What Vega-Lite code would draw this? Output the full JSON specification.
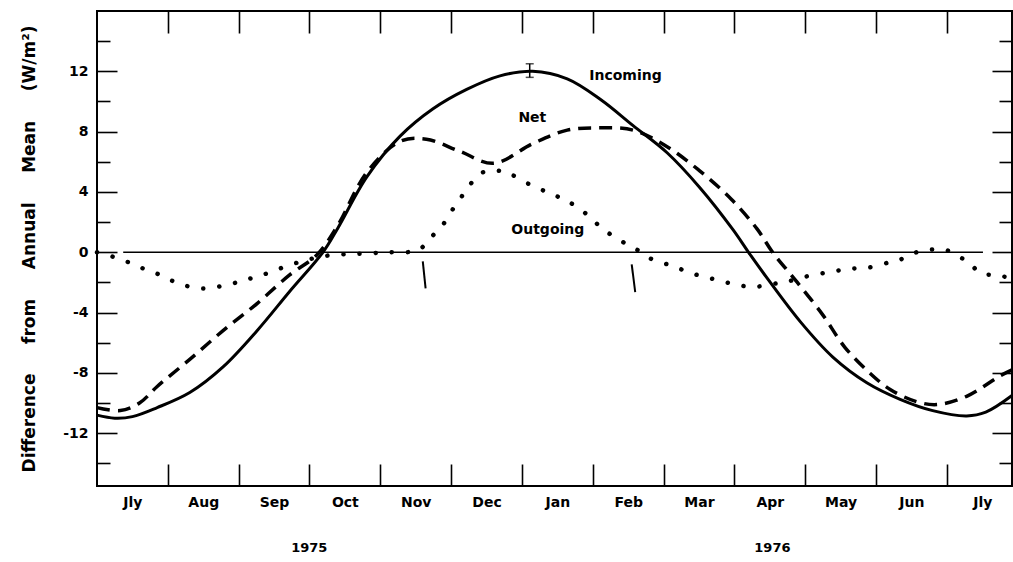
{
  "$schema": "https://vega.github.io/schema/vega-lite/v6.json",
  "width": 915,
  "height": 475,
  "autosize": {"type": "none"},
  "padding": {"left": 97, "top": 11, "right": 1, "bottom": 76},
  "background": "white",
  "config": {
    "view": {"stroke": "black", "strokeWidth": 2},
    "font": "DejaVu Sans",
    "axis": {"domain": false, "grid": false, "labelFont": "DejaVu Sans", "labelFontWeight": "bold", "labelFontSize": 14, "labelColor": "black", "tickColor": "black", "tickWidth": 1.6, "labelOverlap": false, "labelBound": false, "labelFlush": false}
  },
  "datasets": {
    "incoming": [
      {"m": 0, "v": -10.8}, {"m": 0.25, "v": -11.0}, {"m": 0.5, "v": -10.9}, {"m": 0.85, "v": -10.3},
      {"m": 1.31, "v": -9.3}, {"m": 1.78, "v": -7.6}, {"m": 2.26, "v": -5.2}, {"m": 2.72, "v": -2.6},
      {"m": 3.19, "v": 0}, {"m": 3.4, "v": 1.6}, {"m": 3.81, "v": 5.0}, {"m": 4.28, "v": 7.7},
      {"m": 4.74, "v": 9.5}, {"m": 5.22, "v": 10.8}, {"m": 5.69, "v": 11.7}, {"m": 6.15, "v": 12.0},
      {"m": 6.64, "v": 11.5}, {"m": 7.12, "v": 10.1}, {"m": 7.57, "v": 8.4}, {"m": 8.05, "v": 6.6},
      {"m": 8.51, "v": 4.3}, {"m": 8.98, "v": 1.5}, {"m": 9.2, "v": 0},
      {"m": 9.46, "v": -1.7}, {"m": 9.93, "v": -4.6}, {"m": 10.39, "v": -6.95}, {"m": 10.87, "v": -8.65},
      {"m": 11.34, "v": -9.75}, {"m": 11.8, "v": -10.5}, {"m": 12.28, "v": -10.85}, {"m": 12.55, "v": -10.6},
      {"m": 12.92, "v": -9.5}
    ],
    "net": [
      {"m": 0, "v": -10.3}, {"m": 0.33, "v": -10.5}, {"m": 0.6, "v": -10.0}, {"m": 0.85, "v": -8.9},
      {"m": 1.31, "v": -7.1}, {"m": 1.78, "v": -5.2}, {"m": 2.26, "v": -3.4}, {"m": 2.72, "v": -1.5},
      {"m": 3.1, "v": -0.2}, {"m": 3.39, "v": 1.7}, {"m": 3.81, "v": 5.3}, {"m": 4.28, "v": 7.35},
      {"m": 4.65, "v": 7.5}, {"m": 5.12, "v": 6.7}, {"m": 5.6, "v": 5.9}, {"m": 6.15, "v": 7.2},
      {"m": 6.64, "v": 8.1}, {"m": 7.1, "v": 8.25}, {"m": 7.57, "v": 8.1}, {"m": 8.05, "v": 7.0},
      {"m": 8.51, "v": 5.4}, {"m": 8.96, "v": 3.5}, {"m": 9.32, "v": 1.55}, {"m": 9.54, "v": 0},
      {"m": 9.88, "v": -1.95}, {"m": 10.24, "v": -4.1}, {"m": 10.56, "v": -6.3}, {"m": 10.91, "v": -8.0},
      {"m": 11.2, "v": -9.1}, {"m": 11.57, "v": -9.9}, {"m": 11.86, "v": -10.1}, {"m": 12.28, "v": -9.55},
      {"m": 12.75, "v": -8.2}, {"m": 12.92, "v": -7.8}
    ],
    "outgoing": [
      {"m": 0, "v": 0}, {"m": 0.33, "v": -0.45}, {"m": 0.61, "v": -1.0}, {"m": 0.89, "v": -1.5},
      {"m": 1.17, "v": -2.1}, {"m": 1.5, "v": -2.4}, {"m": 1.84, "v": -2.15}, {"m": 2.12, "v": -1.8},
      {"m": 2.4, "v": -1.4}, {"m": 2.72, "v": -0.85}, {"m": 3.01, "v": -0.45}, {"m": 3.29, "v": -0.2},
      {"m": 3.67, "v": -0.1}, {"m": 4.14, "v": 0}, {"m": 4.52, "v": 0.1}, {"m": 4.63, "v": 0.5},
      {"m": 4.74, "v": 1.1}, {"m": 4.88, "v": 1.8}, {"m": 5.03, "v": 2.9}, {"m": 5.15, "v": 3.7},
      {"m": 5.27, "v": 4.5}, {"m": 5.41, "v": 5.2}, {"m": 5.52, "v": 5.4}, {"m": 5.69, "v": 5.4},
      {"m": 5.83, "v": 5.2}, {"m": 6.11, "v": 4.5}, {"m": 6.4, "v": 3.9}, {"m": 6.64, "v": 3.4},
      {"m": 6.92, "v": 2.5}, {"m": 7.14, "v": 1.55}, {"m": 7.43, "v": 0.67}, {"m": 7.55, "v": 0.35},
      {"m": 7.69, "v": 0}, {"m": 7.83, "v": -0.45}, {"m": 8.12, "v": -0.9}, {"m": 8.4, "v": -1.4},
      {"m": 8.68, "v": -1.75}, {"m": 8.98, "v": -2.1}, {"m": 9.26, "v": -2.3}, {"m": 9.54, "v": -2.1},
      {"m": 9.74, "v": -1.95}, {"m": 10.02, "v": -1.6}, {"m": 10.35, "v": -1.3}, {"m": 10.63, "v": -1.1},
      {"m": 10.91, "v": -1.0}, {"m": 11.2, "v": -0.65}, {"m": 11.36, "v": -0.45}, {"m": 11.51, "v": -0.1},
      {"m": 11.66, "v": 0.1}, {"m": 11.86, "v": 0.2}, {"m": 12.02, "v": 0.1}, {"m": 12.23, "v": -0.45},
      {"m": 12.35, "v": -0.85}, {"m": 12.47, "v": -1.4}, {"m": 12.64, "v": -1.5}, {"m": 12.79, "v": -1.6},
      {"m": 12.92, "v": -1.7}
    ],
    "zero": [{"a": 0.37, "b": 12.51, "v": 0}],
    "marks": [
      {"m": 4.6, "m2": 4.64, "v": -0.6, "v2": -2.4},
      {"m": 7.55, "m2": 7.6, "v": -0.8, "v2": -2.65}
    ],
    "err": [{"m": 6.11, "lo": 11.6, "hi": 12.5}],
    "labels": [
      {"m": 6.95, "v": 11.7, "t": "Incoming"},
      {"m": 5.95, "v": 8.9, "t": "Net"},
      {"m": 5.85, "v": 1.5, "t": "Outgoing"}
    ]
  },
  "resolve": {"axis": {"x": "independent", "y": "independent"}},
  "layer": [
    {
      "data": {"name": "zero"},
      "mark": {"type": "rule", "color": "black", "strokeWidth": 1.5},
      "encoding": {
        "x": {"field": "a", "type": "quantitative", "scale": {"domain": [0, 12.92], "nice": false, "zero": false}, "axis": null},
        "x2": {"field": "b"},
        "y": {"field": "v", "type": "quantitative", "scale": {"domain": [-15.5, 16], "nice": false, "zero": false}, "axis": null}
      }
    },
    {
      "data": {"name": "incoming"},
      "mark": {"type": "line", "color": "black", "strokeWidth": 3, "interpolate": "catmull-rom"},
      "encoding": {
        "x": {"field": "m", "type": "quantitative", "scale": {"domain": [0, 12.92], "nice": false, "zero": false},
          "axis": {"orient": "bottom", "title": null,
            "values": [0.5, 1, 1.5, 2, 2.5, 3, 3.5, 4, 4.5, 5, 5.5, 6, 6.5, 7, 7.5, 8, 8.5, 9, 9.5, 10, 10.5, 11, 11.5, 12, 12.5],
            "labelExpr": "datum.value % 1 === 0 ? '' : ['Jly','Aug','Sep','Oct','Nov','Dec','Jan','Feb','Mar','Apr','May','Jun','Jly'][floor(datum.value)]",
            "tickSize": -22,
            "tickOpacity": {"condition": {"test": "datum.value % 1 === 0", "value": 1}, "value": 0},
            "labelPadding": 31}},
        "y": {"field": "v", "type": "quantitative", "scale": {"domain": [-15.5, 16], "nice": false, "zero": false},
          "axis": {"orient": "left",
            "title": "Difference\u00a0\u00a0\u00a0\u00a0\u00a0from\u00a0\u00a0\u00a0\u00a0\u00a0Annual\u00a0\u00a0\u00a0\u00a0\u00a0Mean\u00a0\u00a0\u00a0\u00a0\u00a0(W/m²)",
            "titleFontSize": 17, "titleFontWeight": "bold", "titleFont": "DejaVu Sans", "titleColor": "black", "titlePadding": 24,
            "values": [-14, -12, -10, -8, -6, -4, -2, 0, 2, 4, 6, 8, 10, 12, 14],
            "labelExpr": "datum.value % 4 === 0 ? toString(datum.value) : ''",
            "labelFontSize": 14,
            "tickSize": {"condition": {"test": "datum.value % 4 === 0", "value": -20}, "value": -13},
            "labelPadding": 29}}
      }
    },
    {
      "data": {"name": "net"},
      "mark": {"type": "line", "color": "black", "strokeWidth": 3.5, "strokeDash": [13, 8], "interpolate": "catmull-rom"},
      "encoding": {
        "x": {"field": "m", "type": "quantitative", "scale": {"domain": [0, 12.92], "nice": false, "zero": false},
          "axis": {"orient": "top", "title": null, "values": [1, 2, 3, 4, 5, 6, 7, 8, 9, 10, 11, 12], "labels": false, "tickSize": -22}},
        "y": {"field": "v", "type": "quantitative", "scale": {"domain": [-15.5, 16], "nice": false, "zero": false},
          "axis": {"orient": "right", "title": null, "values": [-14, -12, -10, -8, -6, -4, -2, 0, 2, 4, 6, 8, 10, 12, 14], "labels": false,
            "tickSize": {"condition": {"test": "datum.value % 4 === 0", "value": -20}, "value": -13}}}
      }
    },
    {
      "data": {"name": "outgoing"},
      "mark": {"type": "line", "color": "black", "strokeWidth": 4.5, "strokeDash": [0.1, 16], "strokeCap": "round", "interpolate": "catmull-rom"},
      "encoding": {
        "x": {"field": "m", "type": "quantitative", "scale": {"domain": [0, 12.92], "nice": false, "zero": false},
          "axis": {"orient": "bottom", "title": null, "values": [2.99, 9.53], "labelExpr": "datum.value < 6 ? '1975' : '1976'", "ticks": false, "labelPadding": 55, "labelFontSize": 13}},
        "y": {"field": "v", "type": "quantitative", "scale": {"domain": [-15.5, 16], "nice": false, "zero": false}, "axis": null}
      }
    },
    {
      "data": {"name": "marks"},
      "mark": {"type": "rule", "color": "black", "strokeWidth": 2},
      "encoding": {
        "x": {"field": "m", "type": "quantitative", "axis": null},
        "x2": {"field": "m2"},
        "y": {"field": "v", "type": "quantitative", "axis": null},
        "y2": {"field": "v2"}
      }
    },
    {
      "data": {"name": "err"},
      "mark": {"type": "rule", "color": "black", "strokeWidth": 1.5},
      "encoding": {
        "x": {"field": "m", "type": "quantitative", "axis": null},
        "y": {"field": "lo", "type": "quantitative", "axis": null},
        "y2": {"field": "hi"}
      }
    },
    {
      "data": {"name": "err"},
      "mark": {"type": "tick", "color": "black", "orient": "horizontal", "size": 8, "thickness": 1.5},
      "encoding": {
        "x": {"field": "m", "type": "quantitative", "axis": null},
        "y": {"field": "lo", "type": "quantitative", "axis": null}
      }
    },
    {
      "data": {"name": "err"},
      "mark": {"type": "tick", "color": "black", "orient": "horizontal", "size": 8, "thickness": 1.5},
      "encoding": {
        "x": {"field": "m", "type": "quantitative", "axis": null},
        "y": {"field": "hi", "type": "quantitative", "axis": null}
      }
    },
    {
      "data": {"name": "labels"},
      "mark": {"type": "text", "align": "left", "baseline": "middle", "font": "DejaVu Sans", "fontSize": 14, "fontWeight": "bold", "color": "black"},
      "encoding": {
        "x": {"field": "m", "type": "quantitative", "axis": null},
        "y": {"field": "v", "type": "quantitative", "axis": null},
        "text": {"field": "t"}
      }
    }
  ]
}
